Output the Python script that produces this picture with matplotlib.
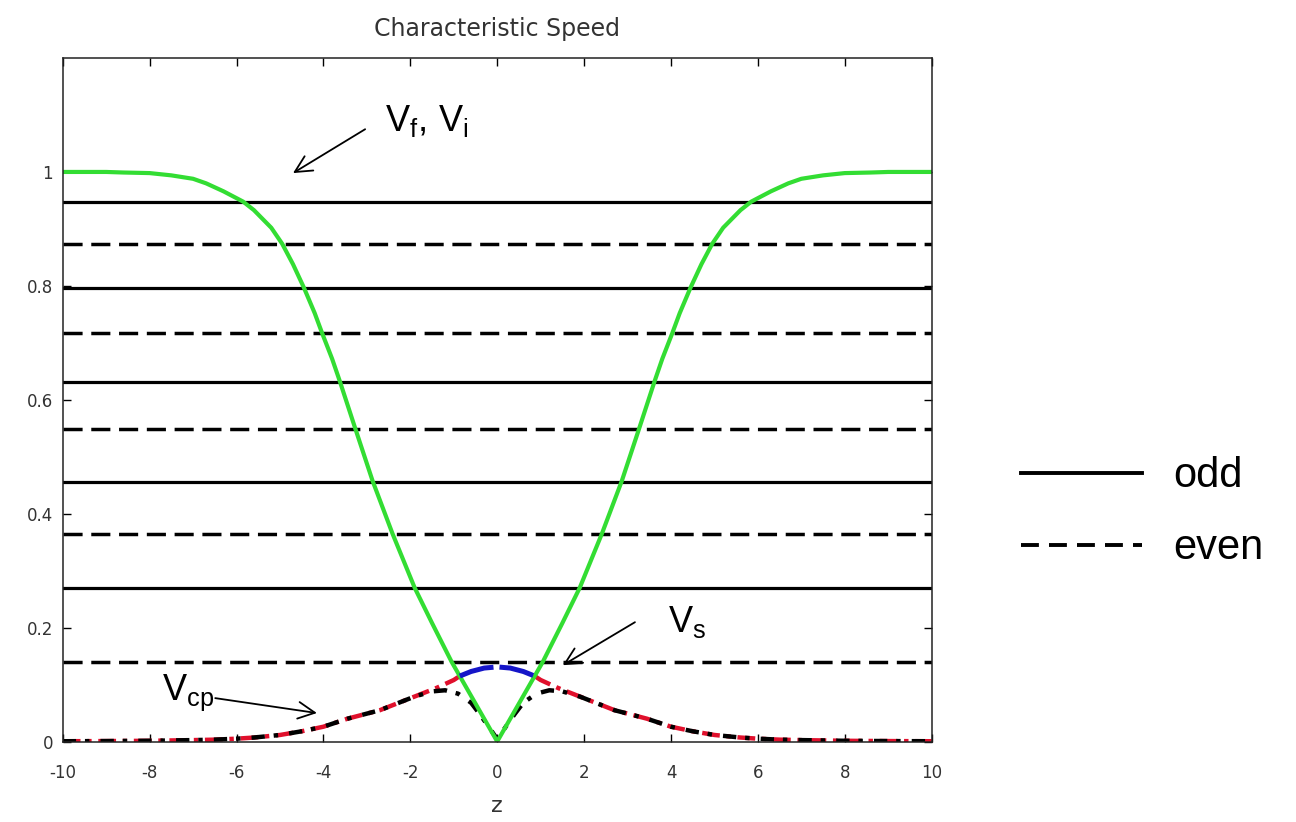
"""Characteristic speeds vs z with odd/even mode levels."""

import matplotlib

matplotlib.use("Agg")
import matplotlib.pyplot as plt
import numpy as np
from matplotlib.lines import Line2D

# fast / Alfven speed (green)
green_z = [-10, -9, -8.6, -8, -7.5, -7, -6.7, -6.3, -5.85, -5.6, -5.2, -4.95,
           -4.7, -4.45, -4.2, -4.03, -3.8, -3.62, -3.26, -2.87, -2.41, -1.9,
           -1.5, -1.05, 0,
           1.05, 1.5, 1.9, 2.41, 2.87, 3.26, 3.62, 3.8, 4.03, 4.2, 4.45, 4.7,
           4.95, 5.2, 5.6, 5.85, 6.3, 6.7, 7, 7.5, 8, 8.6, 9, 10]
green_v = [1.0, 1.0, 0.999, 0.998, 0.994, 0.988, 0.980, 0.966, 0.948, 0.933,
           0.902, 0.874, 0.838, 0.797, 0.752, 0.717, 0.672, 0.632, 0.548,
           0.458, 0.365, 0.270, 0.208, 0.140, 0.0,
           0.140, 0.208, 0.270, 0.365, 0.458, 0.548, 0.632, 0.672, 0.717,
           0.752, 0.797, 0.838, 0.874, 0.902, 0.933, 0.948, 0.966, 0.980,
           0.988, 0.994, 0.998, 0.999, 1.0, 1.0]

# slow speed near the centre (blue)
blue_z = [-0.86, -0.6, -0.3, 0, 0.3, 0.6, 0.86]
blue_v = [0.115, 0.123, 0.129, 0.131, 0.129, 0.123, 0.115]

# cusp speed branches (red and black dash-dot)
red_z = [-10, -9, -8, -7, -6.5, -6, -5.6, -5, -4.5, -4, -3.45, -2.7, -1.9,
         -1.4, -1.0, -0.86, np.nan,
         0.86, 1.0, 1.4, 1.9, 2.7, 3.45, 4, 4.5, 5, 5.6, 6, 6.5, 7, 8, 9, 10]
red_v = [0.0005, 0.0008, 0.0013, 0.0025, 0.0033, 0.005, 0.007, 0.0115, 0.018,
         0.026, 0.040, 0.055, 0.079, 0.094, 0.108, 0.115, np.nan,
         0.115, 0.108, 0.094, 0.079, 0.055, 0.040, 0.026, 0.018, 0.0115,
         0.007, 0.005, 0.0033, 0.0025, 0.0013, 0.0008, 0.0005]

black_z = [-10, -9, -8, -7, -6.5, -6, -5.6, -5, -4.5, -4, -3.45, -2.7, -1.9,
           -1.5, -1.2, -0.9, -0.6, -0.4, -0.17, 0,
           0.17, 0.4, 0.6, 0.9, 1.2, 1.5, 1.9, 2.7, 3.45, 4, 4.5, 5, 5.6, 6,
           6.5, 7, 8, 9, 10]
black_v = [0.0005, 0.0008, 0.0013, 0.0025, 0.0033, 0.005, 0.007, 0.0115,
           0.018, 0.026, 0.040, 0.055, 0.079, 0.088, 0.090, 0.084, 0.068,
           0.048, 0.023, 0.004,
           0.023, 0.048, 0.068, 0.084, 0.090, 0.088, 0.079, 0.055, 0.040,
           0.026, 0.018, 0.0115, 0.007, 0.005, 0.0033, 0.0025, 0.0013,
           0.0008, 0.0005]

# mode levels
odd_levels = [0.948, 0.797, 0.632, 0.455, 0.270]
even_levels = [0.874, 0.717, 0.548, 0.365, 0.140]

x_ticks = [-10, -8, -6, -4, -2, 0, 2, 4, 6, 8, 10]
y_ticks = [0, 0.2, 0.4, 0.6, 0.8, 1]

LABEL_FONT = "Liberation Sans"

plt.rcParams["axes.unicode_minus"] = False
plt.rcParams["mathtext.fontset"] = "custom"
plt.rcParams["mathtext.rm"] = LABEL_FONT
plt.rcParams["mathtext.it"] = LABEL_FONT
plt.rcParams["mathtext.bf"] = LABEL_FONT

fig = plt.figure(figsize=(12.96, 8.22), dpi=100)
ax = fig.add_axes([0.0484, 0.0979, 0.6705, 0.8315])

for level in odd_levels:
    ax.axhline(level, color="black", lw=2.3)
for level in even_levels:
    ax.axhline(level, color="black", lw=2.5, dashes=(5.5, 2.5))

ax.plot(red_z, red_v, color="#e0102c", lw=3.2, dashes=(4, 1.5, 1, 1.5))
ax.plot(black_z, black_v, color="black", lw=3.2, dashes=(3, 2, 1, 2.5))
ax.plot(green_z, green_v, color="#33dd33", lw=3.0)
ax.plot(blue_z, blue_v, color="#1515c8", lw=3.6, dashes=(7, 1.2))

ax.set_xlim(-10, 10)
ax.set_ylim(0, 1.2)
ax.set_xticks(x_ticks)
ax.set_yticks(y_ticks)
ax.set_yticklabels([f"{t:g}" for t in y_ticks])
ax.tick_params(direction="in", length=6, width=1.0, top=True, right=True,
               labelsize=12, labelcolor="#333333")
ax.tick_params(axis="x", pad=16)
ax.tick_params(axis="y", pad=7)
for spine in ax.spines.values():
    spine.set_linewidth(1.1)
    spine.set_color("#222222")

ax.set_title("Characteristic Speed", fontsize=17, color="#333333", pad=16)
ax.set_xlabel("z", fontsize=16, color="#333333", labelpad=10)

arrow = dict(arrowstyle="->", lw=1.3, color="black", mutation_scale=30,
             shrinkA=0, shrinkB=0)
ax.annotate("", xy=(-4.70, 0.998), xytext=(-3.04, 1.075), arrowprops=arrow)
ax.annotate("", xy=(1.51, 0.134), xytext=(3.17, 0.2095), arrowprops=arrow)
ax.annotate("", xy=(-4.15, 0.050), xytext=(-6.49, 0.0762), arrowprops=arrow)

ax.text(-2.58, 1.072, r"$\mathregular{V_f,\,V_i}$", fontsize=26,
        family=LABEL_FONT, va="baseline")
ax.text(3.94, 0.193, r"$\mathregular{V_s}$", fontsize=26,
        family=LABEL_FONT, va="baseline")
ax.text(-7.71, 0.0727, r"$\mathregular{V_{cp}}$", fontsize=26,
        family=LABEL_FONT, va="baseline")

handles = [
    Line2D([], [], color="black", lw=2.8),
    Line2D([], [], color="black", lw=2.8, dashes=(4.6, 2.6)),
]
fig.legend(handles, ["odd", "even"], loc="center left",
           bbox_to_anchor=(0.788, 0.3767), frameon=False,
           prop={"family": LABEL_FONT, "size": 30},
           handlelength=2.9, handletextpad=0.75, labelspacing=0.77,
           borderpad=0, borderaxespad=0)

fig.savefig("out.png", dpi=100)
